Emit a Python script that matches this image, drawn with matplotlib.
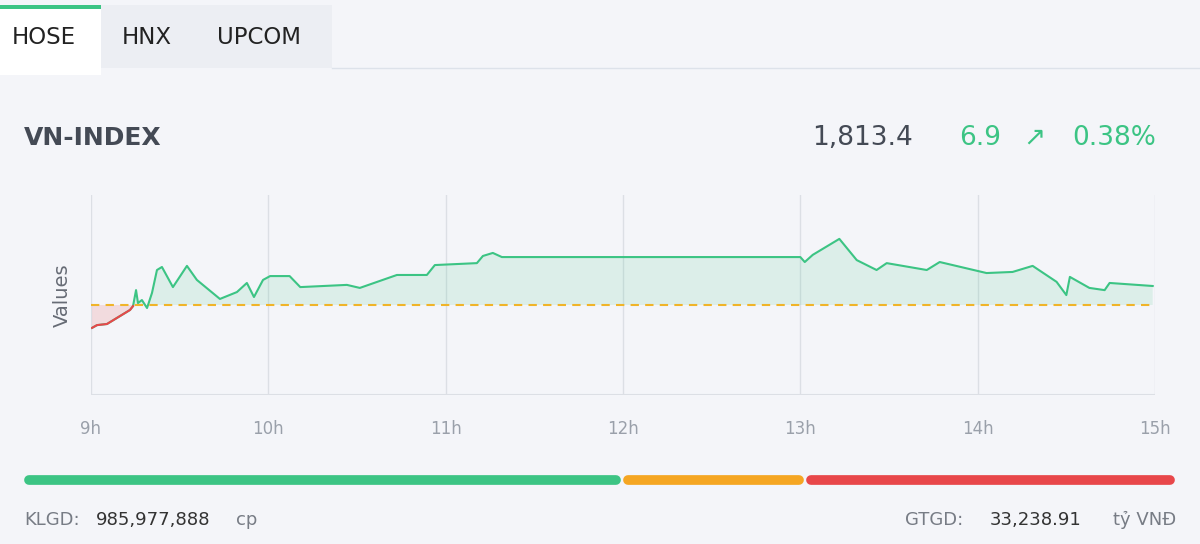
import matplotlib
matplotlib.use("Agg")
import matplotlib.pyplot as plt
from matplotlib.lines import Line2D
from matplotlib.patches import Rectangle
import numpy as np

times = [9.006, 9.034, 9.09, 9.22, 9.237, 9.254, 9.265, 9.287, 9.316, 9.344, 9.372, 9.40,
         9.462, 9.541, 9.597, 9.727, 9.823, 9.879, 9.919, 9.97, 10.01, 10.12, 10.18, 10.443,
         10.516, 10.725, 10.894, 10.939, 11.176, 11.21, 11.266, 11.317, 13.0, 13.025, 13.07,
         13.22, 13.318, 13.43, 13.487, 13.713, 13.786, 14.05, 14.197, 14.31, 14.445, 14.50,
         14.52, 14.63, 14.716, 14.744, 14.987]
values = [1798.2, 1799.2, 1799.6, 1804.7, 1806.1, 1811.9, 1807.2, 1808.3, 1805.4, 1810.9,
          1819.2, 1820.3, 1813.0, 1820.7, 1815.6, 1808.7, 1811.2, 1814.5, 1809.4, 1815.6,
          1817.0, 1817.0, 1813.0, 1813.8, 1812.7, 1817.4, 1817.4, 1821.0, 1821.7, 1824.3,
          1825.4, 1823.9, 1823.9, 1822.1, 1824.7, 1830.5, 1822.8, 1819.2, 1821.7, 1819.2,
          1822.1, 1818.1, 1818.5, 1820.7, 1814.9, 1810.1, 1816.7, 1812.7, 1811.9, 1814.5, 1813.4]
ref_value = 1806.5
hour_ticks = [9, 10, 11, 12, 13, 14, 15]
hour_labels = ["9h", "10h", "11h", "12h", "13h", "14h", "15h"]
tabs = ["HOSE", "HNX", "UPCOM"]
breadth = [595, 179, 367]  # advancers / unchanged / decliners (bar lengths)

W, H = 1200, 544
bg = "#f4f5f9"
green = "#3cc484"
red = "#e8474a"
orange = "#f5a623"

fig = plt.figure(figsize=(12, 5.44), dpi=100, facecolor=bg)

def fx(px): return px / W
def fy(py): return 1 - py / H

# tabs
fig.patches.append(Rectangle((0, fy(68)), fx(332), fy(5) - fy(68), transform=fig.transFigure,
                             facecolor="#eceef3", edgecolor="none", zorder=0))
fig.patches.append(Rectangle((0, fy(75)), fx(101), fy(6) - fy(75), transform=fig.transFigure,
                             facecolor="white", edgecolor="none", zorder=1))
fig.patches.append(Rectangle((0, fy(9)), fx(101), fy(5) - fy(9), transform=fig.transFigure,
                             facecolor=green, edgecolor="none", zorder=2))
fig.lines.append(Line2D([fx(332), 1], [fy(68), fy(68)], transform=fig.transFigure,
                        color="#dde2ea", lw=1))
for t, x in zip(tabs, [12, 122, 217]):
    fig.text(fx(x), fy(38), t, fontsize=16.5, color="#222222", va="center", ha="left", zorder=3)

fig.text(fx(24), fy(138), "VN-INDEX", fontsize=18, fontweight="bold", color="#444a55", va="center")
fig.text(fx(913), fy(138), "1,813.4", fontsize=19, color="#444a55", va="center", ha="right")
fig.text(fx(1001), fy(138), "6.9", fontsize=19, color=green, va="center", ha="right")
fig.text(fx(1034), fy(138), "\u2197", fontsize=19, color=green, va="center", ha="center",
         family=["DejaVu Sans"])
fig.text(fx(1156), fy(138), "0.38%", fontsize=19, color=green, va="center", ha="right")

ax = fig.add_axes([fx(91), fy(395), fx(1155) - fx(91), fy(195) - fy(395)])
ax.set_facecolor(bg)
y0 = ref_value - 90 * 0.363
y1 = ref_value + 110 * 0.363
ax.set_xlim(9, 15)
ax.set_ylim(y0, y1)
t = np.array(times); v = np.array(values)
ax.fill_between(t, v, ref_value, where=v >= ref_value, interpolate=True, color=green, alpha=0.13, lw=0)
ax.fill_between(t, v, ref_value, where=v <= ref_value, interpolate=True, color=red, alpha=0.15, lw=0)
ax.plot(t, v, color=green, lw=1.5)
ax.plot(t[:5], v[:5], color=red, lw=1.5)
ax.axhline(ref_value, color="#f0b429", lw=1.5, ls=(0, (4, 3)))
for h in hour_ticks:
    ax.axvline(h, color="#dcdfe5", lw=1, zorder=0)
ax.axhline(y0, color="#dcdfe5", lw=1.5)
for s in ax.spines.values():
    s.set_visible(False)
ax.set_yticks([])
ax.set_xticks(hour_ticks)
ax.set_xticklabels(hour_labels, color="#9aa0aa", fontsize=12)
ax.tick_params(axis="x", length=0, pad=18)
fig.text(fx(62), fy(295), "Values", rotation=90, fontsize=14, color="#666b75", va="center", ha="center")

# breadth bar
x = 25
cols = [green, orange, red]
for L, c in zip(breadth, cols):
    fig.lines.append(Line2D([fx(x + 4), fx(x + L - 4)], [fy(480), fy(480)], transform=fig.transFigure,
                            color=c, lw=7, solid_capstyle="round"))
    x += L + 4

fs = 13
fig.text(fx(24), fy(520), "KLGD:", fontsize=fs, color="#777c85", va="center")
fig.text(fx(96), fy(520), "985,977,888", fontsize=fs, color="#333333", va="center")
fig.text(fx(236), fy(520), "cp", fontsize=fs, color="#777c85", va="center")
fig.text(fx(905), fy(520), "GTGD:", fontsize=fs, color="#777c85", va="center")
fig.text(fx(990), fy(520), "33,238.91", fontsize=fs, color="#333333", va="center")
fig.text(fx(1176), fy(520), "tỷ VNĐ", fontsize=fs, color="#777c85", va="center", ha="right")

fig.savefig("out.png", dpi=100, facecolor=bg)
